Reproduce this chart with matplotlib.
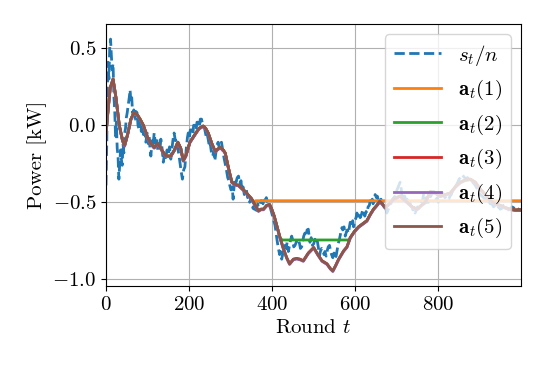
import numpy as np
import matplotlib
matplotlib.use("Agg")
import matplotlib.pyplot as plt

plt.rcParams['font.family'] = 'serif'
plt.rcParams['font.serif'] = ['cmr10', 'DejaVu Serif']
plt.rcParams['mathtext.fontset'] = 'cm'
plt.rcParams['axes.formatter.use_mathtext'] = True
plt.rcParams['font.size'] = 15
plt.rcParams['axes.unicode_minus'] = True

# ---- data ----
blue_t = [0, 2, 3, 5, 7, 9, 11, 13, 15, 17, 19, 21, 23, 25, 27, 29, 31, 33, 35, 37, 39, 41, 43, 45, 47, 49,
          51, 54, 56, 58, 60, 62, 64, 67, 70, 72, 75, 77, 80, 83, 85, 87, 90, 93, 96, 99, 102, 104, 106, 108,
          111, 113, 116, 119, 122, 125, 128, 130, 132, 135, 138, 141, 144, 147, 150, 153, 156, 159, 161, 164,
          167, 170, 173, 176, 178, 181, 184, 187, 190, 193, 196, 198, 201, 203, 206, 209, 211, 214, 217, 219,
          222, 225, 227, 230, 233, 235, 238, 241, 243, 246, 249, 251, 254, 257, 259, 262, 265, 267, 270, 273,
          275, 278, 281, 284, 287, 290, 293, 296, 298, 301, 304, 306, 308, 310, 313, 316, 319, 322, 325, 327,
          330, 333, 335, 338, 341, 343, 346, 349, 351, 354, 357, 359, 362, 365, 367, 370, 373, 375, 378, 381,
          383, 386, 389, 393, 396, 399, 402, 404, 407, 410, 412, 415, 418, 420, 423, 426, 428, 431, 434, 436,
          439, 442, 444, 447, 450, 452, 455, 458, 460, 463, 466, 468, 471, 474, 476, 479, 482, 484, 487, 489,
          491, 494, 497, 500, 503, 505, 508, 511, 514, 516, 519, 522, 525, 527, 530, 533, 535, 538, 541, 543,
          546, 549, 551, 554, 557, 559, 562, 565, 568, 570, 573, 576, 579, 581, 584, 586, 588, 591, 594, 596,
          599, 602, 604, 607, 610, 612, 615, 618, 620, 623, 626, 628, 631, 634, 636, 639, 641, 643, 646, 648,
          651, 653, 656, 659, 662, 665, 668, 671, 674, 676, 679, 682, 684, 687, 690, 693, 696, 699, 702, 705,
          708, 711, 713, 716, 719, 722, 725, 728, 731, 733, 736, 739, 742, 744, 747, 750, 753, 756, 759, 762,
          765, 768, 771, 773, 776, 779, 782, 785, 789, 792, 795, 798, 800, 803, 806, 810, 813, 816, 819, 822,
          825, 828, 831, 834, 837, 840, 843, 847, 850, 853, 857, 860, 863, 867, 870, 873, 877, 880, 883, 886,
          889, 893, 897, 901, 905, 909, 913, 917, 921, 925, 929, 933, 937, 941, 945, 949, 953, 957, 961, 965,
          969, 973, 977, 981, 985, 989, 993, 997, 999]
blue_y = [-0.39, -0.10, 0.20, 0.41, 0.30, 0.50, 0.56, 0.45, 0.36, 0.40, 0.19, 0.10, -0.07, 0.02, -0.15, -0.20,
          -0.35, -0.25, -0.16, -0.22, -0.26, -0.12, -0.18, -0.05, -0.02, 0.05,
          0.08, 0.14, 0.18, 0.23, 0.15, 0.18, 0.08, 0.10, 0.04, 0.09, 0.08, 0.00, -0.03, 0.03, -0.04, 0.02,
          -0.06, -0.02, -0.11, -0.05, -0.12, -0.07, -0.15, -0.20,
          -0.10, -0.14, -0.05, -0.12, -0.08, -0.17, -0.12, -0.16, -0.09, -0.15, -0.24, -0.18, -0.21, -0.16,
          -0.19, -0.14, -0.22, -0.15, -0.10, -0.05,
          -0.10, -0.09, -0.15, -0.20, -0.24, -0.30, -0.35, -0.29, -0.27, -0.16, -0.08, -0.05, -0.08, -0.03,
          -0.03, -0.06, 0.00, 0.00, -0.03, 0.02,
          0.02, -0.01, 0.04, 0.04, 0.00, 0.00, -0.03, -0.07, -0.05, -0.09, -0.14, -0.12, -0.18, -0.20, -0.17,
          -0.23, -0.17, -0.13, -0.11, -0.15,
          -0.12, -0.11, -0.16, -0.21, -0.25, -0.29, -0.34, -0.36, -0.39, -0.42, -0.40, -0.48, -0.41, -0.35,
          -0.37, -0.34, -0.33, -0.38, -0.36, -0.42,
          -0.40, -0.45, -0.44, -0.42, -0.47, -0.46, -0.50, -0.47, -0.50, -0.54, -0.52, -0.57, -0.55, -0.51,
          -0.53, -0.52, -0.49, -0.49, -0.51, -0.47,
          -0.49, -0.47, -0.50, -0.52, -0.54, -0.57, -0.60, -0.62, -0.65, -0.71, -0.75, -0.80, -0.84, -0.82,
          -0.87, -0.83, -0.80, -0.78, -0.80, -0.76,
          -0.82, -0.78, -0.75, -0.72, -0.75, -0.79, -0.78, -0.76, -0.74, -0.74, -0.77, -0.80, -0.79, -0.75,
          -0.72, -0.70, -0.72, -0.68, -0.675, -0.72,
          -0.76, -0.73, -0.78, -0.77, -0.74, -0.76, -0.74, -0.79, -0.85, -0.82, -0.80, -0.81, -0.84, -0.82,
          -0.85, -0.81, -0.79, -0.78, -0.82, -0.84,
          -0.86, -0.83, -0.86, -0.85, -0.80, -0.77, -0.74, -0.70, -0.665, -0.68, -0.66, -0.72, -0.69, -0.68,
          -0.70, -0.66, -0.63, -0.65, -0.62, -0.66,
          -0.62, -0.60, -0.57, -0.59, -0.57, -0.60, -0.58, -0.55, -0.55, -0.59, -0.56, -0.57, -0.53, -0.52,
          -0.49, -0.51, -0.48, -0.51, -0.47, -0.45,
          -0.47, -0.46, -0.49, -0.50, -0.48, -0.51, -0.52, -0.55, -0.54, -0.57, -0.55, -0.53, -0.52, -0.50,
          -0.48, -0.47, -0.46, -0.43, -0.41, -0.39,
          -0.37, -0.42, -0.46, -0.48, -0.46, -0.49, -0.48, -0.50, -0.49, -0.52, -0.53, -0.55, -0.54, -0.57,
          -0.55, -0.53, -0.54, -0.52, -0.50, -0.49,
          -0.44, -0.48, -0.47, -0.50, -0.50, -0.47, -0.46, -0.44, -0.43, -0.45, -0.48, -0.47, -0.50, -0.48,
          -0.47, -0.44, -0.45, -0.47, -0.46, -0.48,
          -0.48, -0.46, -0.45, -0.43, -0.415, -0.40, -0.39, -0.37, -0.35, -0.34, -0.32, -0.33, -0.34, -0.35,
          -0.34, -0.35, -0.34, -0.35, -0.37, -0.38,
          -0.39, -0.41, -0.43, -0.45, -0.46, -0.47, -0.48, -0.50, -0.49, -0.51, -0.51, -0.53, -0.52, -0.54,
          -0.53, -0.545, -0.54, -0.52, -0.52, -0.53,
          -0.55, -0.545, -0.53, -0.535, -0.55, -0.54, -0.545, -0.55, -0.55]

# a_t(5) (also a_t(3), a_t(4)): smoothed trajectory
smooth_t = [0, 5, 10, 17, 24, 32, 40, 45, 52, 60, 67, 75, 82, 90, 100, 108, 116, 125, 134, 144, 156, 165,
            173, 180, 186, 192, 202, 214, 224, 234, 240, 246, 255, 263, 269, 275, 282, 287, 295, 303, 311,
            319, 327, 335, 343, 351, 359, 367, 373, 379, 387, 394, 399, 405, 411, 419, 427, 435, 442, 451,
            459, 467, 475, 487, 500, 510, 520, 532, 540, 546, 553, 560, 572, 580, 588, 598, 608, 618, 628,
            636, 644, 652, 659, 665, 672, 682, 692, 708, 725, 737, 749, 759, 769, 781, 793, 805, 817, 829,
            841, 853, 865, 877, 889, 901, 913, 925, 937, 949, 961, 973, 985, 999]
smooth_y = [-0.05, 0.10, 0.24, 0.30, 0.18, 0.00, -0.10, -0.13, -0.06, 0.04, 0.08, 0.07, 0.04, 0.00, -0.08,
            -0.12, -0.145, -0.12, -0.16, -0.20, -0.20, -0.16, -0.11, -0.15, -0.23, -0.20, -0.11, -0.06,
            -0.02, -0.005, -0.02, -0.05, -0.12, -0.17, -0.155, -0.145, -0.16, -0.18, -0.28, -0.37, -0.385,
            -0.39, -0.41, -0.43, -0.455, -0.48, -0.52, -0.556, -0.545, -0.545, -0.52, -0.515, -0.545, -0.59,
            -0.65, -0.73, -0.80, -0.86, -0.90, -0.87, -0.865, -0.87, -0.88, -0.83, -0.794, -0.84, -0.88,
            -0.90, -0.93, -0.946, -0.91, -0.87, -0.816, -0.79, -0.73, -0.69, -0.66, -0.64, -0.62, -0.58,
            -0.545, -0.52, -0.495, -0.51, -0.535, -0.51, -0.48, -0.46, -0.50, -0.53, -0.545, -0.52, -0.50,
            -0.43, -0.44, -0.46, -0.45, -0.44, -0.40, -0.37, -0.355, -0.35, -0.37, -0.415, -0.45, -0.49,
            -0.51, -0.52, -0.535, -0.545, -0.55, -0.55]

# flat segments of a_t(1) and a_t(2)
a1_level, a1_start = -0.49, 360
a2_level, a2_start, a2_end = -0.745, 424, 586

st = np.array(smooth_t)
sy = np.array(smooth_y)

a1_t = np.concatenate([st[st < a1_start], [a1_start, 999]])
a1_y = np.concatenate([sy[st < a1_start], [a1_level, a1_level]])

a2_t = np.concatenate([st[st < a2_start], [a2_start, a2_end], st[st > a2_end]])
a2_y = np.concatenate([sy[st < a2_start], [a2_level, a2_level], sy[st > a2_end]])

fig = plt.figure(figsize=(5.48, 3.66), dpi=100)
ax = fig.add_axes([0.1934, 0.2186, 0.7573, 0.7158])

ax.plot(blue_t, blue_y, '--', color='#1f77b4', lw=2, label=r'$s_t/n$')
ax.plot(a1_t, a1_y, color='#ff7f0e', lw=2, label=r'$\mathbf{a}_t(1)$')
ax.plot(a2_t, a2_y, color='#2ca02c', lw=2, label=r'$\mathbf{a}_t(2)$')
ax.plot(st, sy, color='#d62728', lw=2, label=r'$\mathbf{a}_t(3)$')
ax.plot(st, sy - 0.004, color='#9467bd', lw=2, label=r'$\mathbf{a}_t(4)$')
ax.plot(st, sy, color='#8c564b', lw=2, label=r'$\mathbf{a}_t(5)$')

ax.set_xlim(0, 999)
ax.set_ylim(-1.044, 0.658)
ax.set_xticks([0, 200, 400, 600, 800])
ax.set_yticks([-1.0, -0.5, 0.0, 0.5])
ax.grid(True)
ax.set_xlabel(r'Round $t$')
ax.set_ylabel('Power [kW]')
ax.legend(loc='upper right', handlelength=2.3)

fig.savefig('out.png', dpi=100)
